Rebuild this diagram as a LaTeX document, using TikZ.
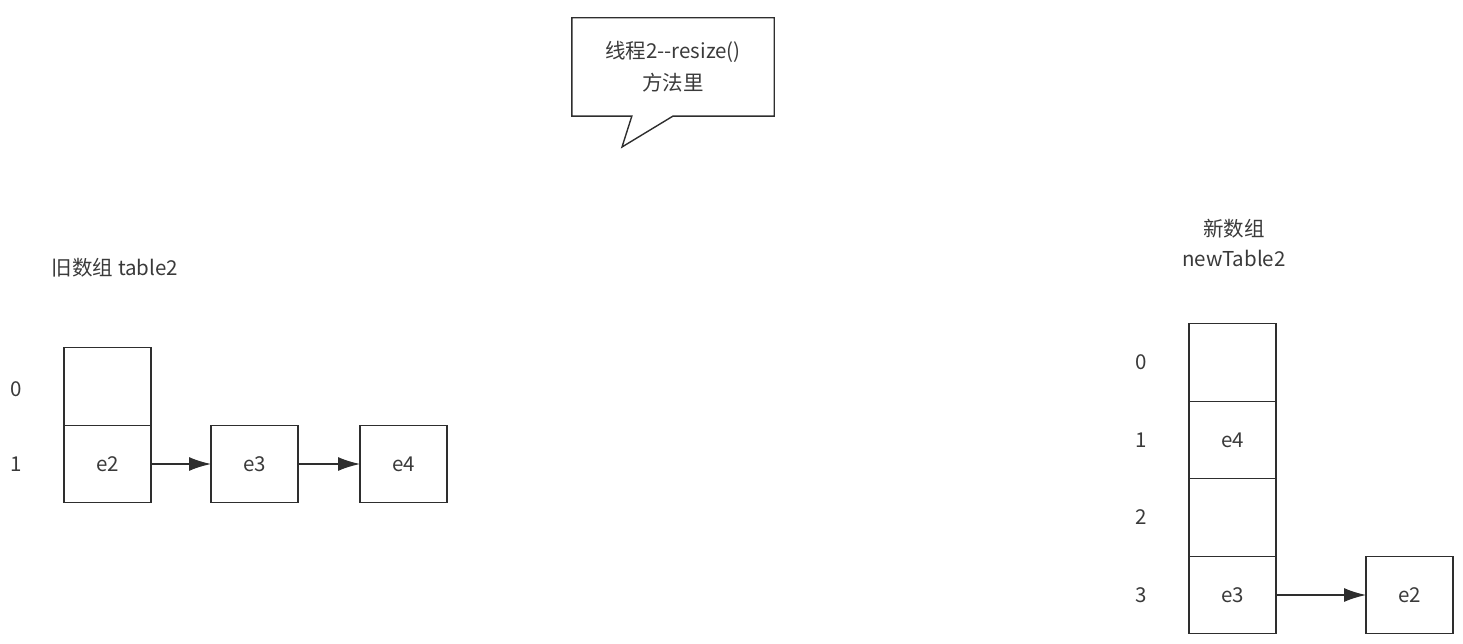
\documentclass[tikz,border=0pt]{standalone}
\usepackage{fontspec}
\setmainfont{Noto Sans CJK SC}
\usepackage{tikz}
\usetikzlibrary{arrows.meta,positioning,calc}
\definecolor{inkgray}{HTML}{2E2E2E}
\definecolor{textgray}{HTML}{3A3A3A}

\begin{document}
\begin{tikzpicture}[
  x=1pt, y=-1pt,
  every node/.style={font=\fontsize{20.5}{30}\selectfont, text=textgray},
  cell/.style={rectangle, draw=inkgray, line width=1.4pt, outer sep=0pt, minimum width=87pt, minimum height=77.5pt},
  index/.style={inner sep=0pt, align=center},
  title/.style={inner sep=0pt, align=center},
  link/.style={-{Latex[length=22pt, width=14pt]}, line width=1.4pt, draw=inkgray},
  bubbleline/.style={draw=inkgray, line width=1.4pt, line join=miter}
]
\useasboundingbox (0,0) rectangle (1463,644);

% Callout
\node[minimum width=202pt, minimum height=98pt, inner sep=0pt, align=center] (bubble) at (673,67) {线程2-{}-resize()\\[2pt]方法里};
\coordinate (tip) at (622,147);
\draw[bubbleline] (bubble.north west) -- (bubble.north east) -- (bubble.south east)
  -- ($(bubble.south west)+(101,0)$) -- (tip) -- ($(bubble.south west)+(60,0)$)
  -- (bubble.south west) -- cycle;

% Old array
\node[title] (oldtitle) at (115,268) {旧数组 table2};
\node[cell] (o0) at (107.5,386.5) {};
\node[cell, below=0pt of o0] (o1) {e2};
\node[cell, right=60pt of o1] (oe3) {e3};
\node[cell, right=62pt of oe3] (oe4) {e4};
\node[index, left=42pt of o0, yshift=-3pt] (oi0) {0};
\node[index, left=42pt of o1] (oi1) {1};

\draw[link] (o1) -- (oe3);
\draw[link] (oe3) -- (oe4);

% New array
\node[title] (newtitle) at (1234,243) {新数组\\newTable2};
\node[cell] (n0) at (1232.5,362.5) {};
\node[cell, below=0pt of n0] (n1) {e4};
\node[cell, below=0pt of n1] (n2) {};
\node[cell, below=0pt of n2] (n3) {e3};
\node[cell, right=90pt of n3] (ne2) {e2};
\foreach \i in {0,...,3}
  \node[index, left=42pt of n\i] (ni\i) {\i};

\draw[link] (n3) -- (ne2);

\end{tikzpicture}
\end{document}
